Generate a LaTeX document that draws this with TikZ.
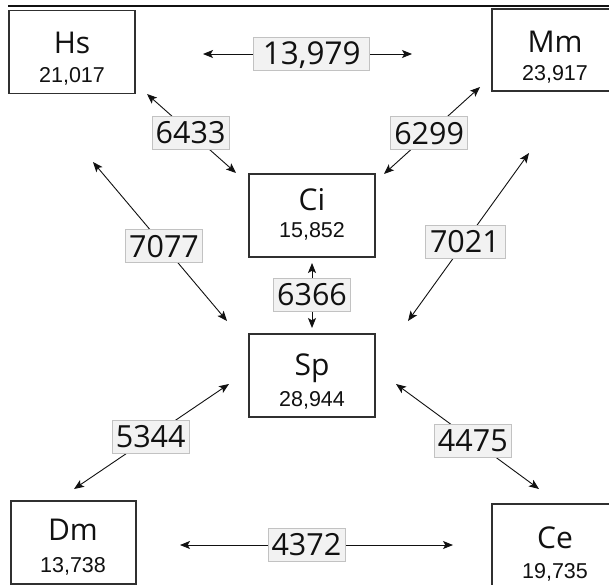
\documentclass[tikz,border=0pt]{standalone}
\usepackage{fontspec}
\setmainfont{Open Sans}
\newfontfamily\numfont{Liberation Sans}
\usetikzlibrary{arrows.meta}
\definecolor{boxline}{HTML}{303030}
\definecolor{lblfill}{HTML}{F2F2F2}
\definecolor{lbldraw}{HTML}{C2C2C2}
\definecolor{inkc}{HTML}{111111}
\begin{document}
\begin{tikzpicture}[x=1pt,y=-1pt,
  spbox/.style={draw=boxline, line width=1.3pt, minimum width=126pt, minimum height=83pt, inner sep=0pt},
  title/.style={anchor=base, font=\fontsize{30}{30}\selectfont, text=inkc, inner sep=0pt},
  count/.style={anchor=base, font=\numfont\fontsize{21.5}{22}\selectfont, text=inkc, inner sep=0pt},
  lbl/.style={draw=lbldraw, fill=lblfill, line width=0.6pt, font=\fontsize{30.5}{30}\selectfont, text=inkc,
    minimum width=77pt, minimum height=33pt, inner xsep=2pt, inner ysep=0pt, text height=21.8pt, text depth=0pt},
  link/.style={draw=inkc, line width=0.9pt, {Stealth[length=10pt,width=8pt,inset=2.3pt]}-{Stealth[length=10pt,width=8pt,inset=2.3pt]}}]
\useasboundingbox (0,0) rectangle (609,584);
\clip (0,0) rectangle (609,584);
\fill[white] (0,0) rectangle (609,584);
\draw[line width=2.4pt, inkc] (8,6) -- (609,6);

% species boxes
\node[spbox] (hs) at (72,52) {};
\node[spbox, minimum width=125pt, minimum height=82pt] (mm) at (554.5,50) {};
\node[spbox] (ci) at (312,215.5) {};
\node[spbox] (sp) at (312,375.5) {};
\node[spbox, minimum width=125pt] (dm) at (73.5,542.5) {};
\node[spbox, minimum width=125pt] (ce) at (554.5,545.5) {};

\node[title] (hsT) at (72,53) {Hs};
\node[count] (hsN) at (72,82) {21,017};
\node[title] (mmT) at (555,52) {Mm};
\node[count] (mmN) at (555,80) {23,917};
\node[title] (ciT) at (312,210) {Ci};
\node[count] (ciN) at (312,237) {15,852};
\node[title] (spT) at (312,375) {Sp};
\node[count] (spN) at (312,406) {28,944};
\node[title] (dmT) at (73,540) {Dm};
\node[count] (dmN) at (73,572) {13,738};
\node[title] (ceT) at (555,548) {Ce};
\node[count] (ceN) at (555,578) {19,735};

% arrow end points
\coordinate (hm1) at (203,54);   \coordinate (hm2) at (412,54);
\coordinate (hc1) at (147,94);   \coordinate (hc2) at (236,173);
\coordinate (mc1) at (480,87);   \coordinate (mc2) at (384,174);
\coordinate (hp1) at (93,162);   \coordinate (hp2) at (227,321);
\coordinate (mp1) at (529,153);  \coordinate (mp2) at (408,321);
\coordinate (cp1) at (312,263);  \coordinate (cp2) at (312,328);
\coordinate (dp1) at (229,384);  \coordinate (dp2) at (74,489);
\coordinate (ep1) at (396,384);  \coordinate (ep2) at (539,489);
\coordinate (de1) at (180,545);  \coordinate (de2) at (453,545);

\draw[link] (hm1) -- node[lbl, pos=0.52, minimum width=116pt, font=\fontsize{31.5}{31}\selectfont] (lhm) {13,979} (hm2);
\draw[link] (hc1) -- node[lbl, pos=0.49] (lhc) {6433} (hc2);
\draw[link] (mc1) -- node[lbl, pos=0.53] (lmc) {6299} (mc2);
\draw[link] (hp1) -- node[lbl, pos=0.53] (lhp) {7077} (hp2);
\draw[link] (mp1) -- node[lbl, pos=0.53, minimum width=80pt] (lmp) {7021} (mp2);
\draw[link] (cp1) -- node[lbl, pos=0.49] (lcp) {6366} (cp2);
\draw[link] (dp1) -- node[lbl, pos=0.505] (ldp) {5344} (dp2);
\draw[link] (ep1) -- node[lbl, pos=0.537] (lep) {4475} (ep2);
\draw[link] (de1) -- node[lbl, pos=0.463] (lde) {4372} (de2);
\end{tikzpicture}
\end{document}
